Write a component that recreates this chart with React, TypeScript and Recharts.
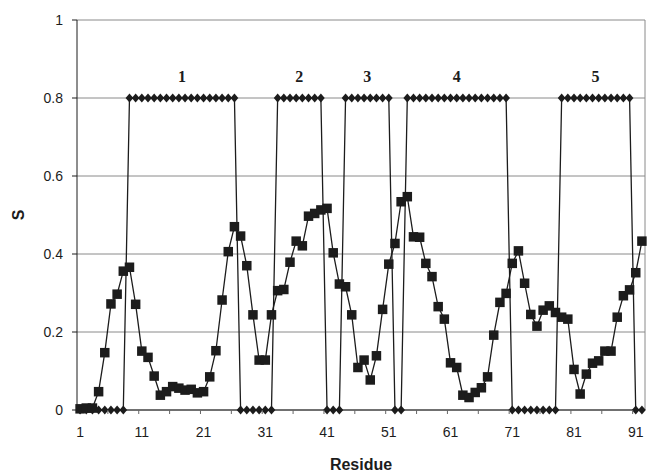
import React from 'react';
import { LineChart, Line, XAxis, YAxis, CartesianGrid, ReferenceLine, ReferenceDot } from 'recharts';

const residues = [
  1, 2, 3, 4, 5, 6, 7, 8, 9, 10, 11, 12, 13, 14, 15, 16, 17, 18, 19, 20,
  21, 22, 23, 24, 25, 26, 27, 28, 29, 30, 31, 32, 33, 34, 35, 36, 37, 38, 39, 40,
  41, 42, 43, 44, 45, 46, 47, 48, 49, 50, 51, 52, 53, 54, 55, 56, 57, 58, 59, 60,
  61, 62, 63, 64, 65, 66, 67, 68, 69, 70, 71, 72, 73, 74, 75, 76, 77, 78, 79, 80,
  81, 82, 83, 84, 85, 86, 87, 88, 89, 90, 91, 92,
];

// segment indicator (diamonds)
const segmentValues = [
  0, 0, 0, 0, 0, 0, 0, 0,
  0.8, 0.8, 0.8, 0.8, 0.8, 0.8, 0.8, 0.8, 0.8, 0.8, 0.8, 0.8, 0.8, 0.8, 0.8, 0.8, 0.8, 0.8,
  0, 0, 0, 0, 0, 0,
  0.8, 0.8, 0.8, 0.8, 0.8, 0.8, 0.8, 0.8,
  0, 0, 0,
  0.8, 0.8, 0.8, 0.8, 0.8, 0.8, 0.8, 0.8,
  0, 0,
  0.8, 0.8, 0.8, 0.8, 0.8, 0.8, 0.8, 0.8, 0.8, 0.8, 0.8, 0.8, 0.8, 0.8, 0.8, 0.8, 0.8,
  0, 0, 0, 0, 0, 0, 0, 0,
  0.8, 0.8, 0.8, 0.8, 0.8, 0.8, 0.8, 0.8, 0.8, 0.8, 0.8, 0.8,
  0, 0,
];

// S values (squares)
const sValues = [
  0.003, 0.005, 0.005, 0.047, 0.147, 0.272, 0.297, 0.356, 0.366, 0.271,
  0.151, 0.135, 0.087, 0.038, 0.047, 0.06, 0.056, 0.051, 0.053, 0.044,
  0.047, 0.085, 0.152, 0.282, 0.406, 0.47, 0.446, 0.37, 0.244, 0.128,
  0.128, 0.244, 0.306, 0.309, 0.379, 0.433, 0.421, 0.497, 0.504, 0.513,
  0.517, 0.403, 0.323, 0.316, 0.244, 0.109, 0.128, 0.077, 0.139, 0.258,
  0.374, 0.427, 0.534, 0.547, 0.444, 0.443, 0.376, 0.342, 0.265, 0.233,
  0.121, 0.109, 0.038, 0.032, 0.045, 0.057, 0.085, 0.192, 0.276, 0.299,
  0.376, 0.408, 0.325, 0.245, 0.215, 0.256, 0.267, 0.25, 0.238, 0.233,
  0.104, 0.041, 0.092, 0.12, 0.126, 0.151, 0.151, 0.238, 0.293, 0.308,
  0.352, 0.433,
];

const xTicks = [1, 11, 21, 31, 41, 51, 61, 71, 81, 91];
const xMinorTicks = [5.5, 10.5, 15.5, 20.5, 25.5, 30.5, 35.5, 40.5, 45.5, 50.5, 55.5, 60.5, 65.5, 70.5, 75.5, 80.5, 85.5, 90.5];
const yTicks = [0, 0.2, 0.4, 0.6, 0.8, 1];

const segNames = ['1', '2', '3', '4', '5'];
const segCenters = [17.5, 36.5, 47.5, 62, 84.5];
const segLabelLevel = 0.855;

const data = residues.map((r, i) => ({ r, seg: segmentValues[i], s: sValues[i] }));
const allXTicks = [...xTicks, ...xMinorTicks].sort((a, b) => a - b);

const INK = '#1c1c1c';
const SANS = '"Liberation Sans", Arial, sans-serif';
const SERIF = '"Liberation Serif", "Times New Roman", serif';

const Square = (props: any) => {
  const { cx, cy, index } = props;
  if (cx == null || cy == null) return <g key={`sq-${index}`} />;
  return <rect key={`sq-${index}`} x={cx - 4.75} y={cy - 4.75} width={9.5} height={9.5} fill={INK} />;
};

const Diamond = (props: any) => {
  const { cx, cy, index } = props;
  if (cx == null || cy == null) return <g key={`dm-${index}`} />;
  return (
    <polygon
      key={`dm-${index}`}
      points={`${cx},${cy - 4.5} ${cx + 3.9},${cy} ${cx},${cy + 4.5} ${cx - 3.9},${cy}`}
      fill={INK}
    />
  );
};

const XTick = (props: any) => {
  const { x, y, payload } = props;
  const v = payload.value;
  if (v % 1 !== 0) {
    return <line x1={x} y1={y} x2={x} y2={y + 4} stroke="#666" strokeWidth={1} />;
  }
  return (
    <text x={x} y={y + 22} textAnchor="middle" dominantBaseline="central" fontSize={14} fontFamily={SANS} fill={INK}>
      {v}
    </text>
  );
};

const YLabel = (props: any) => {
  const vb = props.viewBox || { x: 0, y: 20, width: 77, height: 390 };
  const cx = vb.x + 18;
  const cy = vb.y + vb.height / 2;
  return (
    <text x={cx} y={cy} transform={`rotate(-90 ${cx} ${cy})`} textAnchor="middle" dominantBaseline="central"
      fontWeight="bold" fontSize={16} fontFamily={SANS} fill={INK}>S</text>
  );
};

const XLabel = (props: any) => {
  const vb = props.viewBox || { x: 77, y: 410, width: 568, height: 63 };
  const cx = vb.x + vb.width / 2;
  const cy = vb.y + 54;
  return (
    <text x={cx} y={cy} textAnchor="middle" dominantBaseline="central"
      fontWeight="bold" fontSize={16} fontFamily={SANS} fill={INK}>Residue</text>
  );
};

const SegLabel = (name: string) => (props: any) => {
  const vb = props.viewBox || {};
  const cx = vb.cx != null ? vb.cx : vb.x + (vb.width || 0) / 2;
  const cy = vb.cy != null ? vb.cy : vb.y + (vb.height || 0) / 2;
  return (
    <text x={cx} y={cy} textAnchor="middle" dominantBaseline="central"
      fontWeight="bold" fontSize={16} fontFamily={SERIF} fill={INK}>{name}</text>
  );
};

export default function App() {
  return (
    <div style={{ position: 'absolute', left: 0, top: 0, width: 647, height: 473, background: '#fff' }}>
      <LineChart width={647} height={473} data={data} margin={{ top: 20, right: 2, bottom: 0, left: 0 }}>
        <CartesianGrid vertical={false} stroke="#8a8a8a" strokeWidth={1} />
        <ReferenceLine x={92.5} stroke="#8a8a8a" strokeWidth={1} />
        <XAxis
          dataKey="r"
          type="number"
          domain={[0.5, 92.5]}
          ticks={allXTicks}
          interval={0}
          tickSize={0}
          tickMargin={0}
          tickLine={false}
          tick={<XTick />}
          height={63}
          axisLine={{ stroke: INK, strokeWidth: 1 }}
          label={{ content: <XLabel /> }}
        />
        <YAxis
          type="number"
          domain={[0, 1]}
          ticks={yTicks}
          interval={0}
          width={77}
          tickSize={5}
          tickMargin={9}
          tickFormatter={(v: number) => String(v)}
          tick={{ fontSize: 14, fontFamily: SANS, fill: INK }}
          tickLine={{ stroke: INK }}
          axisLine={{ stroke: INK, strokeWidth: 1 }}
          label={{ content: <YLabel /> }}
        />
        <Line
          dataKey="seg"
          type="linear"
          stroke={INK}
          strokeWidth={1.3}
          dot={Diamond}
          activeDot={false}
          isAnimationActive={false}
        />
        <Line
          dataKey="s"
          type="linear"
          stroke={INK}
          strokeWidth={1.3}
          dot={Square}
          activeDot={false}
          isAnimationActive={false}
        />
        {segNames.map((name, i) => (
          <ReferenceDot
            key={name}
            x={segCenters[i]}
            y={segLabelLevel}
            r={0}
            fill="none"
            stroke="none"
            label={{ content: SegLabel(name) }}
          />
        ))}
      </LineChart>
    </div>
  );
}
